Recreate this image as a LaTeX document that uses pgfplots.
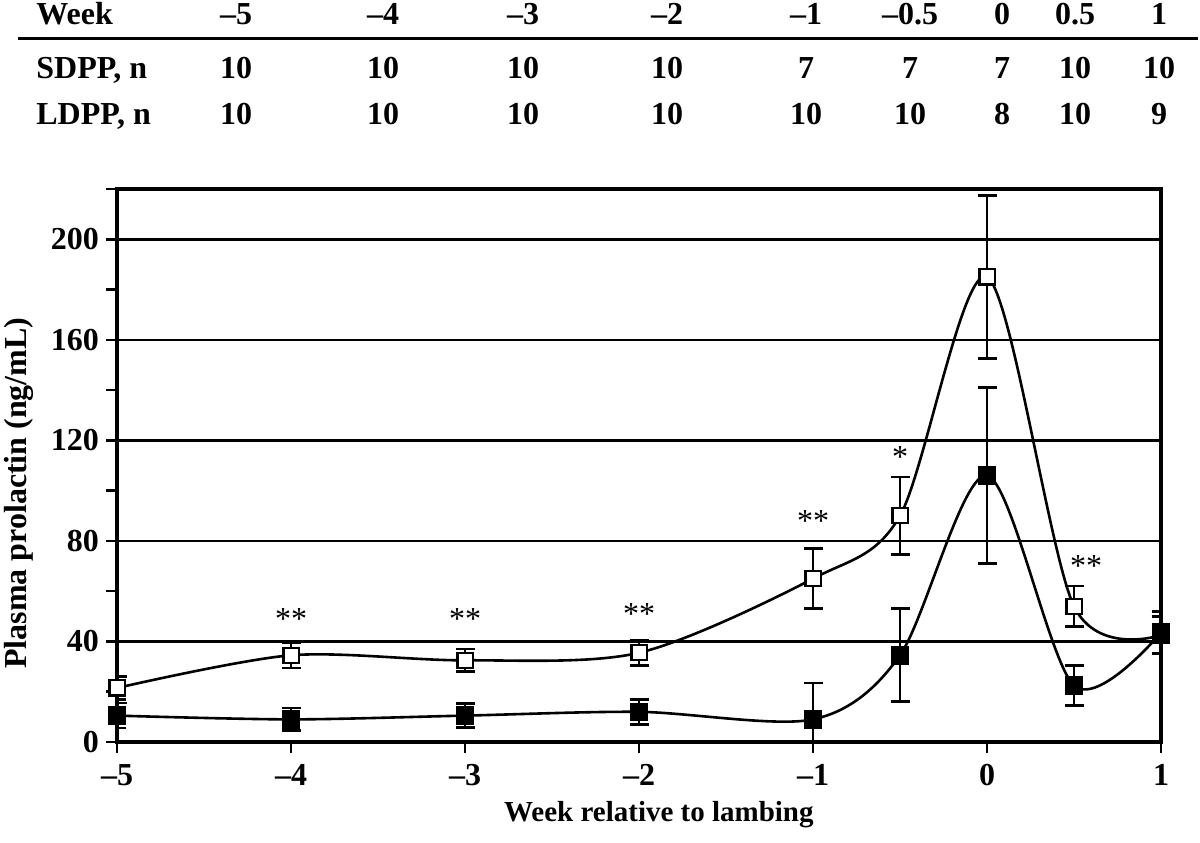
\documentclass[border=0pt]{standalone}
\usepackage{fontspec}
\setmainfont{Liberation Serif}
\usepackage{pgfplots}
\pgfplotsset{compat=1.18}

\pgfplotstableread{
x y e
-5 21.5 4.5
-4 34.5 5
-3 32.5 4.5
-2 35.5 5
-1 65 12
-0.5 90 15.5
0 185 32.5
0.5 54 8
1 42.5 7.5
}\opendata

\pgfplotstableread{
x y e
-5 10.5 5
-4 9 4.5
-3 10.5 4.7
-2 12 5
-1 9 14.5
-0.5 34.5 18.5
0 106 35
0.5 22.5 8
1 43.5 8.3
}\filleddata

\begin{document}
\begin{tikzpicture}
\path[use as bounding box] (0,0) rectangle (600pt,421pt);
\begin{scope}[font=\fontsize{16}{16}\selectfont\bfseries]
\node[anchor=base west, inner sep=0pt] at (18pt,408.5pt) {Week};
\node[anchor=base west, inner sep=0pt] at (18pt,381.5pt) {SDPP, n};
\node[anchor=base west, inner sep=0pt] at (18pt,358.5pt) {LDPP, n};
\foreach \cx/\w/\a/\b in {118/\textendash5/10/10, 191.5/\textendash4/10/10, 261.5/\textendash3/10/10, 333.5/\textendash2/10/10, 403/\textendash1/7/10, 455/\textendash0.5/7/10, 501/0/7/8, 537.5/0.5/10/10, 579.5/1/10/9}{
  \node[anchor=base, inner sep=0pt] at (\cx pt,408.5pt) {\w};
  \node[anchor=base, inner sep=0pt] at (\cx pt,381.5pt) {\a};
  \node[anchor=base, inner sep=0pt] at (\cx pt,358.5pt) {\b};
}
\end{scope}
\draw[line width=1.5pt] (9pt,401.5pt) -- (599pt,401.5pt);

\begin{axis}[
  at={(58.5pt,50pt)}, anchor=south west,
  scale only axis, width=522pt, height=276.5pt,
  xmin=-5, xmax=1, ymin=0, ymax=220,
  xtick={-5,-4,-3,-2,-1,0,1},
  xticklabels={\textendash5,\textendash4,\textendash3,\textendash2,\textendash1,0,1},
  ytick={0,40,80,120,160,200},
  yticklabels={0,40,80,120,160,200},
  minor ytick={20,60,100,140,180,220},
  xtick pos=bottom, ytick pos=left,
  tick align=outside,
  major tick length=5.5pt, minor tick length=5.5pt,
  every tick/.style={black, line width=1.3pt},
  ymajorgrids,
  major grid style={black, line width=1.3pt},
  axis line style={black, line width=1.6pt},
  ticklabel style={font=\fontsize{16}{16}\selectfont\bfseries},
  xticklabel style={yshift=-2pt},
  xlabel={Week relative to lambing},
  ylabel={Plasma prolactin (ng/mL)},
  xlabel style={font=\fontsize{14.5}{14.5}\selectfont\bfseries, at={(axis description cs:0.519,0)}, anchor=center, yshift=-36.5pt},
  ylabel style={font=\fontsize{16}{16}\selectfont\bfseries, at={(axis description cs:-0.094,0.45)}, anchor=center},
]
\addplot[black, line width=1.3pt, smooth, mark=square*,
  mark options={fill=white, draw=black, mark size=3.8pt, line width=1.1pt, solid},
  error bars/.cd, y dir=both, y explicit,
  error bar style={line width=1.3pt, black},
  error mark options={rotate=90, mark size=4.75pt, line width=1.3pt, black}]
  table[x=x, y=y, y error=e] {\opendata};
\addplot[black, line width=1.3pt, smooth, mark=square*,
  mark options={fill=black, draw=black, mark size=4.4pt, line width=0.5pt, solid},
  error bars/.cd, y dir=both, y explicit,
  error bar style={line width=1.3pt, black},
  error mark options={rotate=90, mark size=4.75pt, line width=1.3pt, black}]
  table[x=x, y=y, y error=e] {\filleddata};
\begin{scope}[every node/.style={font=\fontsize{16}{16}\selectfont, inner sep=0pt}]
\node at (axis cs:-4,49) {**};
\node at (axis cs:-3,49) {**};
\node at (axis cs:-2,51) {**};
\node at (axis cs:-1,88) {**};
\node at (axis cs:-0.5,113.5) {*};
\node at (axis cs:0.57,70) {**};
\end{scope}
\end{axis}
\end{tikzpicture}
\end{document}
